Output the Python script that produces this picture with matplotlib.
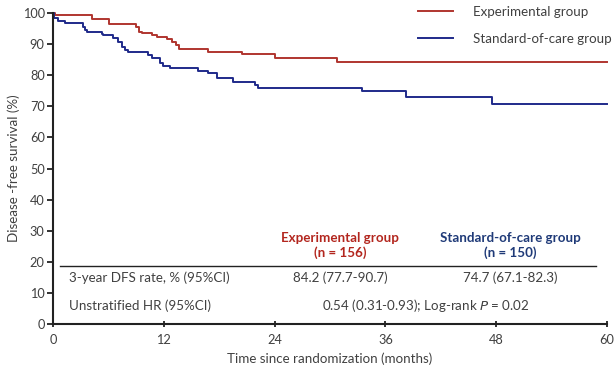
import matplotlib
matplotlib.use("Agg")
import matplotlib.pyplot as plt
from matplotlib.lines import Line2D

plt.rcParams['font.family'] = ['Lato', 'DejaVu Sans']

# Data
exp_time = [0, 0.2, 4.2, 6.1, 9.0, 9.3, 9.6, 10.7, 11.3, 12.3, 12.9, 13.3, 13.6, 16.8, 20.5, 24.0, 30.8, 60]
exp_surv = [100, 99.4, 98.2, 96.4, 95.6, 94.0, 93.5, 92.9, 92.2, 91.6, 90.8, 89.7, 88.4, 87.6, 86.8, 85.6, 84.3, 84.3]
soc_time = [0, 0.15, 0.5, 1.3, 3.25, 3.5, 3.7, 5.3, 5.4, 6.5, 7.0, 7.5, 7.8, 8.1, 10.3, 10.7, 11.6, 11.9,
            12.7, 15.7, 16.8, 17.8, 19.5, 21.9, 22.2, 33.5, 38.2, 47.5, 60]
soc_surv = [100, 98.3, 97.5, 96.7, 95.6, 94.5, 94.0, 93.3, 92.9, 91.9, 90.8, 89.2, 88.1, 87.6, 86.5, 85.4,
            83.8, 83.0, 82.2, 81.4, 80.6, 79.0, 77.9, 76.8, 76.0, 75.0, 73.1, 70.6, 70.6]
groups = ["Experimental group", "Standard-of-care group"]
group_n = ["(n = 156)", "(n = 150)"]
dfs_rates = ["84.2 (77.7-90.7)", "74.7 (67.1-82.3)"]
hr_text = "0.54 (0.31-0.93); Log-rank $\\mathit{P}$ = 0.02"
row_labels = ["3-year DFS rate, % (95%CI)", "Unstratified HR (95%CI)"]
xticks = [0, 12, 24, 36, 48, 60]
yticks = list(range(0, 101, 10))

red = '#B0352F'
blue = '#1F2A8A'
red_txt = '#B3261E'
blue_txt = '#1F3A78'
txt = '#404040'
fs = 9.6

fig = plt.figure(figsize=(6.16, 3.65), dpi=100)
ax = fig.add_axes([53/616, 1-324/365, 554/616, 311/365])

ax.step(exp_time, exp_surv, where='post', color=red, lw=1.4, clip_on=False)
ax.step(soc_time, soc_surv, where='post', color=blue, lw=1.4, clip_on=False)

ax.set_xlim(0, 60)
ax.set_ylim(0, 100)
ax.set_xticks(xticks)
ax.set_yticks(yticks)
for s in ['top', 'right']:
    ax.spines[s].set_visible(False)
for s in ['left', 'bottom']:
    ax.spines[s].set_linewidth(1.5)
    ax.spines[s].set_color('#222222')
ax.tick_params(axis='y', direction='out', length=4, width=1.3, colors='#222222', labelcolor=txt, labelsize=9.2, pad=2)
ax.tick_params(axis='x', direction='inout', length=5, width=1.3, colors='#222222', labelcolor=txt, labelsize=9.2, pad=5)

ax.set_ylabel("Disease -free survival (%)", fontsize=fs, color=txt, labelpad=1.5)
ax.set_xlabel("Time since randomization (months)", fontsize=fs, color=txt, labelpad=4)

handles = [Line2D([], [], color=red, lw=1.4), Line2D([], [], color=blue, lw=1.4)]
leg = ax.legend(handles, groups, loc='upper left', bbox_to_anchor=(0.659, 1.022), frameon=False,
                borderpad=0, borderaxespad=0, handlelength=2.6, handletextpad=1.55, labelspacing=1.1,
                fontsize=fs)
for t in leg.get_texts():
    t.set_color(txt)

# Table
ax.plot([0.76, 58.8], [18.7, 18.7], color='#222222', lw=1.0)
ax.text(31.1, 27.7, groups[0], color=red_txt, fontsize=fs, fontweight='bold', ha='center', va='center')
ax.text(31.1, 22.8, group_n[0], color=red_txt, fontsize=fs, fontweight='bold', ha='center', va='center')
ax.text(49.5, 27.7, groups[1], color=blue_txt, fontsize=fs, fontweight='bold', ha='center', va='center')
ax.text(49.5, 22.8, group_n[1], color=blue_txt, fontsize=fs, fontweight='bold', ha='center', va='center')
ax.text(1.73, 14.8, row_labels[0], color=txt, fontsize=fs, ha='left', va='center')
ax.text(1.73, 5.8, row_labels[1], color=txt, fontsize=fs, ha='left', va='center')
ax.text(31.1, 14.8, dfs_rates[0], color=txt, fontsize=fs, ha='center', va='center')
ax.text(49.5, 14.8, dfs_rates[1], color=txt, fontsize=fs, ha='center', va='center')
ax.text(40.4, 5.8, hr_text, color=txt, fontsize=fs, ha='center', va='center')

fig.savefig("out.png", dpi=100)
